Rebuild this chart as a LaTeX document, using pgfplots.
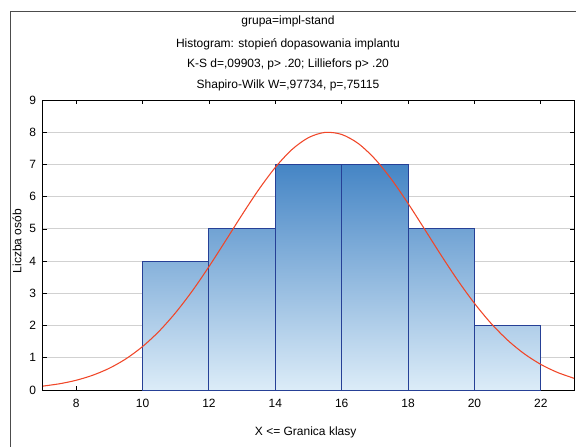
\documentclass[border=0pt]{standalone}
\usepackage{fontspec}
\setmainfont{Liberation Sans}
\usepackage{pgfplots}
\pgfplotsset{compat=1.18}
\definecolor{barhi}{RGB}{69,133,197}
\definecolor{barlo}{RGB}{220,236,248}
\definecolor{baredge}{RGB}{38,64,150}
\definecolor{fitred}{RGB}{240,70,40}
\begin{document}
\fontsize{9}{11}\selectfont
\begin{tikzpicture}
\useasboundingbox (-32.25pt,-42.75pt) rectangle (399.75pt,292.5pt);
% outer frame (cut by the picture edge)
\draw[black!70, line width=0.75pt] (-24.75pt,-42.75pt) -- (-24.75pt,283.5pt) -- (399.75pt,283.5pt);

\node[anchor=center] at (183.75pt,276.5pt) {grupa=impl-stand};
\node[anchor=center] at (183.75pt,259.5pt) {Histogram: stopień dopasowania implantu};
\node[anchor=center] at (183.75pt,244pt) {K-S d=,09903, p> .20; Lilliefors p> .20};
\node[anchor=center] at (183.75pt,228.75pt) {Shapiro-Wilk W=,97734, p=,75115};

\begin{axis}[
    scale only axis,
    width=398.25pt, height=217.5pt,
    xmin=7, xmax=23, ymin=0, ymax=9,
    xtick={8,10,...,22}, ytick={0,1,...,9},
    tick align=inside,
    major tick length=3pt,
    tick style={black, line width=0.5pt},
    ymajorgrids,
    grid style={black!18, line width=0.7pt},
    axis line style={black, line width=0.75pt},
    tick label style={font=\fontsize{9}{11}\selectfont},
    xticklabel style={yshift=-4pt},
    yticklabel style={xshift=-2pt},
    /pgf/number format/assume math mode=true,
    clip=true,
]
% histogram bars (shade follows the bar height, as in the original)
\addplot[ybar interval, draw=baredge, line width=0.75pt, top color=barhi!57!barlo, bottom color=barlo] coordinates {(10,4) (12,4)};
\addplot[ybar interval, draw=baredge, line width=0.75pt, top color=barhi!71!barlo, bottom color=barlo] coordinates {(12,5) (14,5)};
\addplot[ybar interval, draw=baredge, line width=0.75pt, top color=barhi, bottom color=barlo] coordinates {(14,7) (16,7)};
\addplot[ybar interval, draw=baredge, line width=0.75pt, top color=barhi, bottom color=barlo] coordinates {(16,7) (18,7)};
\addplot[ybar interval, draw=baredge, line width=0.75pt, top color=barhi!71!barlo, bottom color=barlo] coordinates {(18,5) (20,5)};
\addplot[ybar interval, draw=baredge, line width=0.75pt, top color=barhi!29!barlo, bottom color=barlo] coordinates {(20,2) (22,2)};

% fitted normal curve
\addplot[fitred, line width=0.8pt, smooth] coordinates {
    (7,0.121) (7.5,0.194) (8,0.302) (8.5,0.459) (9,0.676) (9.5,0.968)
    (10,1.349) (10.5,1.826) (11,2.405) (11.5,3.077) (12,3.828) (12.5,4.629)
    (13,5.442) (13.5,6.219) (14,6.909) (14.5,7.462) (15,7.833) (15.5,7.995)
    (16,7.931) (16.5,7.650) (17,7.172) (17.5,6.537) (18,5.791) (18.5,4.988)
    (19,4.176) (19.5,3.399) (20,2.690) (20.5,2.069) (21,1.547) (21.5,1.125)
    (22,0.794) (22.5,0.546) (23,0.364)
};
\end{axis}

\node[anchor=center] at (197pt,-31.5pt) {X <= Granica klasy};
\node[anchor=center, rotate=90] at (-19.5pt,111.75pt) {Liczba osób};
\end{tikzpicture}
\end{document}
